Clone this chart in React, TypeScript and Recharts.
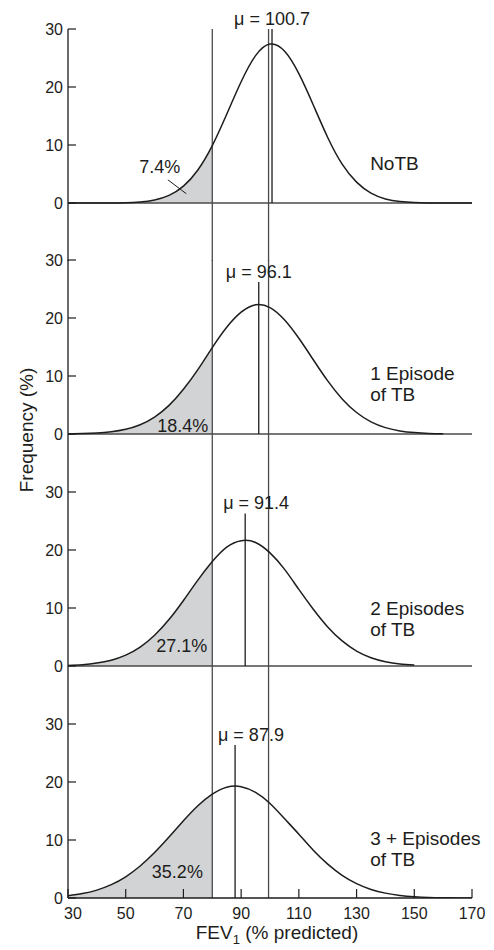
import React from "react";
import { Area, ComposedChart, Label, Line, ReferenceDot, ReferenceLine, XAxis, YAxis } from "recharts";

// FEV1 (% predicted), read every 5 points
const fev = [30, 35, 40, 45, 50, 55, 60, 65, 70, 75, 80, 85, 90, 95, 100, 105, 110, 115, 120, 125, 130, 135, 140, 145, 150, 155, 160, 165, 170];

// Frequency (%) of each group
const noTb = [0, 0, 0, 0.02, 0.06, 0.19, 0.53, 1.32, 2.91, 5.7, 9.9, 15.3, 20.9, 25.4, 27.4, 26.2, 22.3, 16.9, 11.3, 6.7, 3.6, 1.7, 0.7, 0.26, 0.08, 0.02, 0, 0, 0];
const oneEpisode = [0.02, 0.07, 0.16, 0.38, 0.81, 1.6, 2.92, 4.93, 7.71, 11.1, 14.9, 18.4, 21.0, 22.3, 21.8, 19.7, 16.5, 12.8, 9.15, 6.05, 3.71, 2.1, 1.1, 0.53, 0.24, 0.1, 0.04];
const twoEpisodes = [0.1, 0.23, 0.5, 1.0, 1.87, 3.26, 5.3, 8.01, 11.3, 14.8, 18.0, 20.5, 21.6, 21.3, 19.5, 16.7, 13.2, 9.79, 6.74, 4.32, 2.58, 1.43, 0.74, 0.36, 0.16];
const threePlusEpisodes = [0.4, 0.76, 1.36, 2.3, 3.66, 5.51, 7.83, 10.5, 13.3, 15.9, 17.9, 19.1, 19.2, 18.2, 16.3, 13.7, 11.0, 8.24, 5.85, 3.92, 2.48, 1.48, 0.84, 0.44, 0.22, 0.1, 0.05, 0.02, 0];

const series = [noTb, oneEpisode, twoEpisodes, threePlusEpisodes];
const groupNames = [["NoTB"], ["1 Episode", "of TB"], ["2 Episodes", "of TB"], ["3 + Episodes", "of TB"]];
const means = [100.7, 96.1, 91.4, 87.9];
const belowCutoff = ["7.4%", "18.4%", "27.1%", "35.2%"];

const xTicks = [30, 50, 70, 90, 110, 130, 150, 170];
const yTicks = [0, 10, 20, 30];

const CUTOFF = 80;
const NORMAL = 99.5;

// where things sit in each panel (pixels for the panel top, data units for notes)
const layout = [
  { plotTop: 29, meanTop: 30, meanLabelX: 100.7, pct: [61.8, 6.2], nameY: 6.9 },
  { plotTop: 260, meanTop: 26.2, meanLabelX: 96.1, pct: [69.8, 1.3], nameY: 10.6 },
  { plotTop: 492, meanTop: 26.3, meanLabelX: 95.2, pct: [69.4, 3.4], nameY: 10.0 },
  { plotTop: 724, meanTop: 26.4, meanLabelX: 93.4, pct: [67.9, 4.4], nameY: 10.3 },
];

const INK = "#1d1d1b";
const RULE = "#4a4a4a";
const SHADE = "#d2d3d5";
const TOP = 28;

const YTick = ({ x, y, payload }: any) => (
  <g>
    <line x1={x + 5} x2={x + 13} y1={y} y2={y} stroke={INK} strokeWidth={1.2} />
    <text x={x} y={y} textAnchor="end" dominantBaseline="central" fontSize={16} fill={INK}>
      {payload.value}
    </text>
  </g>
);

const XTick = ({ x, y, payload }: any) => (
  <g>
    <line x1={x} x2={x} y1={y - 15} y2={y - 24} stroke={INK} strokeWidth={1.2} />
    <text x={x + (payload.value === 30 ? 5 : 0)} y={y} textAnchor="middle" dominantBaseline="central" fontSize={16} fill={INK}>
      {payload.value}
    </text>
  </g>
);

const XTitle = ({ viewBox }: any) => (
  <text x={viewBox.x + viewBox.width / 2 + 7} y={viewBox.y + 41} textAnchor="middle" fontSize={19} fill={INK}>
    FEV
    <tspan dy={5} fontSize={13}>1</tspan>
    <tspan dy={-5}> (% predicted)</tspan>
  </text>
);

const Note = ({ viewBox, lines, anchor = "start", size = 18, baseline = "central", lift = 0 }: any) => {
  const cx = viewBox.x + viewBox.width / 2;
  const cy = viewBox.y + viewBox.height / 2 - lift;
  return (
    <text x={cx} y={cy} textAnchor={anchor} dominantBaseline={baseline} fontSize={size} fill={INK}>
      {lines.map((t: string, i: number) => (
        <tspan key={i} x={cx} y={cy + i * 21}>
          {t}
        </tspan>
      ))}
    </text>
  );
};

function Panel({ index }: { index: number }) {
  const values = series[index];
  const spot = layout[index];
  const last = index === series.length - 1;
  const rows = fev.map((x, i) => ({
    x,
    freq: values[i] ?? null,
    shade: x <= CUTOFF && values[i] != null ? values[i] : null,
  }));
  const plotH = last ? 174 : 232;
  const height = TOP + plotH + (last ? 52 : 0);

  return (
    <div style={{ position: "absolute", left: 0, top: spot.plotTop - TOP }}>
      <ComposedChart width={494} height={height} data={rows} margin={{ top: TOP, right: 22, bottom: last ? 6 : 0, left: 0 }}>
        <XAxis
          dataKey="x"
          type="number"
          domain={[30, 170]}
          ticks={xTicks}
          interval={0}
          hide={!last}
          height={46}
          axisLine={{ stroke: INK, strokeWidth: 1.3 }}
          tickLine={false}
          tickSize={0}
          tickMargin={15}
          tick={<XTick />}
          allowDataOverflow
        >
          {last && <Label content={<XTitle />} />}
        </XAxis>
        <YAxis
          type="number"
          domain={last ? [0, 30] : [-10, 30]}
          ticks={yTicks}
          interval={0}
          width={68}
          axisLine={{ stroke: INK, strokeWidth: 1.3 }}
          tickLine={false}
          tickSize={0}
          tickMargin={5}
          tick={<YTick />}
          allowDataOverflow
        />
        <Area
          dataKey="shade"
          type="natural"
          fill={SHADE}
          fillOpacity={1}
          stroke="none"
          baseValue={0}
          connectNulls={false}
          isAnimationActive={false}
        />
        {!last && <ReferenceLine y={0} stroke={RULE} strokeWidth={1.3} />}
        <ReferenceLine x={CUTOFF} stroke={RULE} strokeWidth={1.3} />
        <ReferenceLine x={NORMAL} stroke={RULE} strokeWidth={1.3} />
        <ReferenceLine
          segment={[
            { x: means[index], y: 0 },
            { x: means[index], y: spot.meanTop },
          ]}
          stroke={INK}
          strokeWidth={1.3}
        />
        <Line dataKey="freq" type="natural" stroke={INK} strokeWidth={1.5} dot={false} connectNulls={false} isAnimationActive={false} />
        {index === 0 && (
          <ReferenceLine
            segment={[
              { x: 64.6, y: 4.0 },
              { x: 71.0, y: 1.6 },
            ]}
            stroke={INK}
            strokeWidth={1}
          />
        )}
        <ReferenceDot
          x={spot.meanLabelX}
          y={spot.meanTop}
          r={1}
          fill="none"
          stroke="none"
          label={<Note lines={[`\u03bc = ${means[index]}`]} anchor="middle" baseline="auto" lift={4} />}
        />
        <ReferenceDot
          x={spot.pct[0]}
          y={spot.pct[1]}
          r={1}
          fill="none"
          stroke="none"
          label={<Note lines={[belowCutoff[index]]} anchor="middle" />}
        />
        <ReferenceDot
          x={134.7}
          y={spot.nameY}
          r={1}
          fill="none"
          stroke="none"
          label={<Note lines={groupNames[index]} size={19} />}
        />
      </ComposedChart>
    </div>
  );
}

export default function App() {
  return (
    <div
      style={{
        position: "absolute",
        left: 0,
        top: 0,
        width: 494,
        height: 950,
        background: "#fff",
        fontFamily: '"Liberation Sans", Arial, Helvetica, sans-serif',
        color: INK,
      }}
    >
      {series.map((_, i) => (
        <Panel key={i} index={i} />
      ))}
      <div
        style={{
          position: "absolute",
          left: 26,
          top: 430,
          transform: "translate(-50%, -50%) rotate(-90deg)",
          whiteSpace: "nowrap",
          fontSize: 19,
          lineHeight: 1,
        }}
      >
        Frequency (%)
      </div>
    </div>
  );
}
